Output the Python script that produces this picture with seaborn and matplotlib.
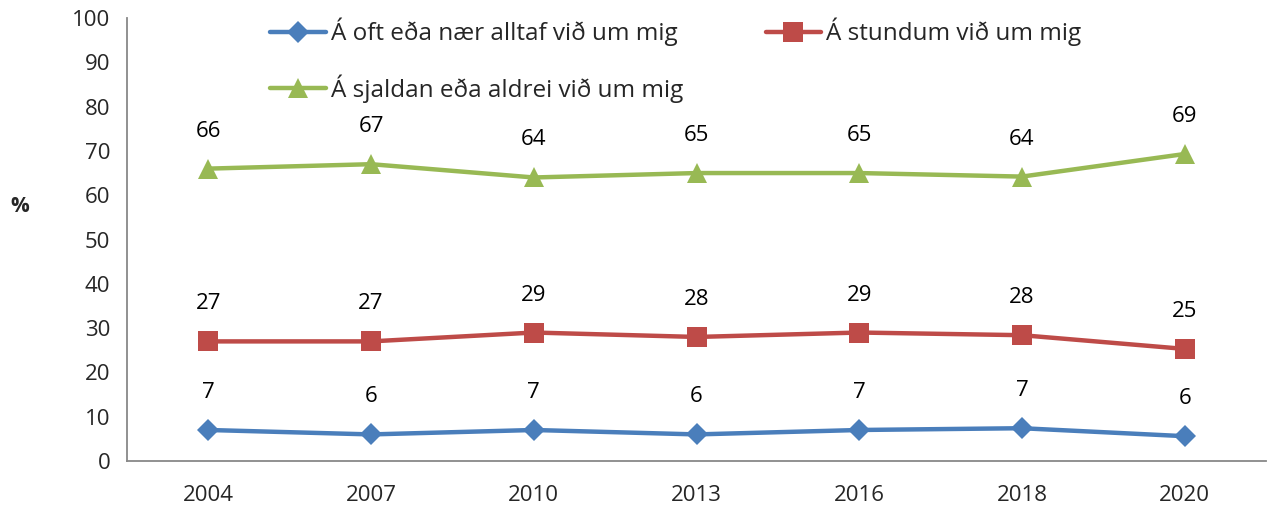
import numpy as np
import pandas as pd
import matplotlib
matplotlib.use('Agg')
import matplotlib.pyplot as plt
import seaborn as sns

years = ['2004', '2007', '2010', '2013', '2016', '2018', '2020']
series_names = ['Á oft eða nær alltaf við um mig',
                'Á stundum við um mig',
                'Á sjaldan eða aldrei við um mig']
oft = [7.0, 6.0, 7.0, 6.0, 7.0, 7.4, 5.6]
stundum = [27.0, 27.0, 29.0, 28.0, 29.0, 28.4, 25.3]
sjaldan = [66.0, 67.0, 64.0, 65.0, 65.0, 64.2, 69.3]
labels_oft = ['7', '6', '7', '6', '7', '7', '6']
labels_stundum = ['27', '27', '29', '28', '29', '28', '25']
labels_sjaldan = ['66', '67', '64', '65', '65', '64', '69']

colors = ['#4a7ebb', '#be4b48', '#98b954']
markers = ['D', 's', '^']
msizes = [11, 14, 15]

sns.set_style('white')
plt.rcParams['font.family'] = ['Open Sans', 'DejaVu Sans']

fig = plt.figure(figsize=(12.72, 5.07), dpi=100)
ax = fig.add_axes([127 / 1272, 1 - 461 / 507, (1266 - 127) / 1272, (461 - 18) / 507])

pos = np.arange(len(years))
for vals, labs, name, c, m, ms in zip([oft, stundum, sjaldan],
                                       [labels_oft, labels_stundum, labels_sjaldan],
                                       series_names, colors, markers, msizes):
    df = pd.DataFrame({'x': pos, 'y': vals})
    sns.lineplot(data=df, x='x', y='y', ax=ax, color=c, linewidth=3.2,
                 marker=m, markersize=ms, markeredgewidth=0, label=name)
    for xi, yi, t in zip(pos, vals, labs):
        ax.annotate(t, (xi, yi), xytext=(0, 27), textcoords='offset points',
                    ha='center', va='center', fontsize=16, color='black')

ax.set_xlim(-0.5, len(years) - 0.5)
ax.set_ylim(0, 100)
ax.set_yticks(range(0, 101, 10))
ax.set_xticks(pos)
ax.set_xticklabels(years)
ax.set_xticks(np.arange(-0.5, len(years), 1), minor=True)
ax.tick_params(axis='x', which='major', length=0, labelsize=16, pad=17)
ax.tick_params(axis='x', which='minor', length=7, width=1.2, color='#888888', direction='out')
ax.tick_params(axis='y', length=7, width=1.2, color='#888888', direction='out', labelsize=16, pad=5)
ax.set_xlabel('')
ax.set_ylabel('')
for s in ['top', 'right']:
    ax.spines[s].set_visible(False)
for s in ['left', 'bottom']:
    ax.spines[s].set_color('#888888')
    ax.spines[s].set_linewidth(1.3)

fig.text(20 / 1272, 1 - 207 / 507, '%', fontsize=15, fontweight='bold', ha='center', va='center')

h, l = ax.get_legend_handles_labels()
ax.get_legend().remove()
order = [0, 2, 1]
fig.legend([h[i] for i in order], [l[i] for i in order], ncol=2,
           loc='upper left', bbox_to_anchor=(248 / 1272, 1 + 4 / 507),
           frameon=False, fontsize=17.5, handlelength=2.3, handletextpad=0.2,
           columnspacing=3.4, labelspacing=1.15)

fig.savefig('out.png', dpi=100)
